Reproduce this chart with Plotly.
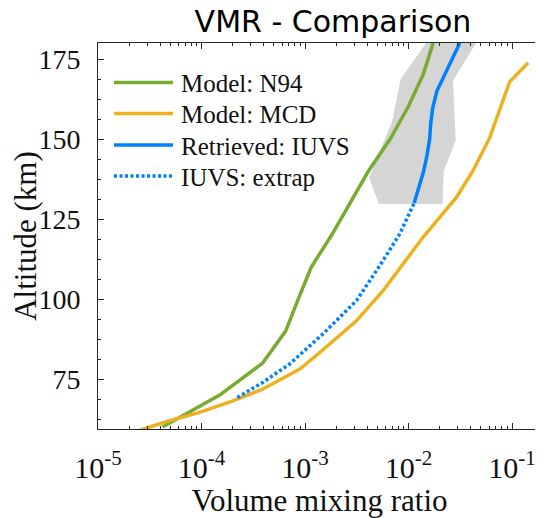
import plotly.graph_objects as go

# ---------------- data ----------------
alt_n94 = [60, 70, 80, 90, 100, 110, 120, 130, 140, 150, 160, 170, 180]
vmr_n94 = [4.2e-5, 1.5e-4, 3.9e-4, 6.5e-4, 8.6e-4, 1.15e-3, 1.81e-3, 2.7e-3,
           4.1e-3, 6.65e-3, 9.9e-3, 1.38e-2, 1.73e-2]

alt_mcd = [59.0, 61.7, 64.6, 68.2, 71.9, 78.1, 83.3, 86.4, 93.2, 102.6, 114.1,
           119.3, 125.5, 131.75, 140.1, 150.5, 167.9, 173.8]
vmr_mcd = [2.53e-5, 4.57e-5, 9.6e-5, 2.01e-4, 3.93e-4, 8.9e-4, 1.39e-3, 1.78e-3,
           3.14e-3, 5.68e-3, 1.03e-2, 1.38e-2, 2.0e-2, 2.9e-2, 4.2e-2, 6.1e-2,
           9.5e-2, 0.143]

alt_iuvs = [130, 135, 140, 145, 150, 155, 160, 165, 170, 175, 180]
vmr_iuvs = [1.135e-2, 1.26e-2, 1.40e-2, 1.51e-2, 1.60e-2, 1.64e-2, 1.72e-2,
            1.88e-2, 2.21e-2, 2.64e-2, 3.13e-2]

alt_extrap = [69.25, 74, 79.7, 89.1, 99.5, 110.4, 120.3, 126.6, 130]
vmr_extrap = [2.22e-4, 3.93e-4, 7.1e-4, 1.49e-3, 3.14e-3, 5.27e-3, 8.2e-3,
              1.01e-2, 1.135e-2]

# uncertainty envelope of the retrieval
alt_env_low = [129.7, 138, 155.7, 168.75, 180]
vmr_env_low = [5.18e-3, 4.15e-3, 6.97e-3, 8.4e-3, 1.48e-2]
alt_env_high = [129.7, 140, 149.5, 168.2, 180]
vmr_env_high = [2.13e-2, 2.19e-2, 2.86e-2, 2.69e-2, 4.49e-2]

series_names = ["Model: N94", "Model: MCD", "Retrieved: IUVS", "IUVS: extrap"]
x_tick_vals = [1e-5, 1e-4, 1e-3, 1e-2, 1e-1]
x_tick_text = ["10<sup>-5</sup>", "10<sup>-4</sup>", "10<sup>-3</sup>",
               "10<sup>-2</sup>", "10<sup>-1</sup>"]
y_tick_vals = [75, 100, 125, 150, 175]

# ---------------- styling ----------------
GREEN = "#77AC30"
YELLOW = "#EDB120"
BLUE = "#0080FF"
GRAY = "#d5d5d5"
AXC = "#262626"
SERIF = "Liberation Serif"
DOT = "3px,2.5px"

OFF = 8                      # page body margin offsets the figure
W, H = 543 - OFF, 518 - OFF  # figure size in its own pixels
# plot box in window pixels: left 98, right 541, top 43, bottom 428.7
L = 98 - OFF
T = 43 - OFF
R = W - (541 - OFF)
B = H - (428.7 - OFF)
pw, ph = W - L - R, H - T - B


def px_x(px):  # window px -> paper
    return (px - OFF - L) / pw


def px_y(py):
    return (H - B - (py - OFF)) / ph


fig = go.Figure()

fig.add_trace(go.Scatter(
    x=vmr_env_low + vmr_env_high[::-1],
    y=alt_env_low + alt_env_high[::-1],
    mode="lines", fill="toself", fillcolor=GRAY,
    line=dict(width=0, color=GRAY), hoverinfo="skip", showlegend=False))

fig.add_trace(go.Scatter(x=vmr_n94, y=alt_n94, mode="lines", name=series_names[0],
                         line=dict(color=GREEN, width=3.5), showlegend=False))
fig.add_trace(go.Scatter(x=vmr_mcd, y=alt_mcd, mode="lines", name=series_names[1],
                         line=dict(color=YELLOW, width=3.5), showlegend=False))
fig.add_trace(go.Scatter(x=vmr_iuvs, y=alt_iuvs, mode="lines", name=series_names[2],
                         line=dict(color=BLUE, width=3.5), showlegend=False))
fig.add_trace(go.Scatter(x=vmr_extrap, y=alt_extrap, mode="lines", name=series_names[3],
                         line=dict(color=BLUE, width=3.5, dash=DOT), showlegend=False))

# manual legend (MATLAB style, long line samples)
leg_rows = [82.5, 113.5, 145, 176]
leg_styles = [(GREEN, "solid"), (YELLOW, "solid"), (BLUE, "solid"), (BLUE, DOT)]
for name, yrow, (col, dash) in zip(series_names, leg_rows, leg_styles):
    fig.add_shape(type="line", xref="paper", yref="paper",
                  x0=px_x(114), x1=px_x(173), y0=px_y(yrow), y1=px_y(yrow),
                  line=dict(color=col, width=3.5, dash=dash))
    fig.add_annotation(xref="paper", yref="paper", x=px_x(179), y=px_y(yrow + 1),
                       text=name, showarrow=False, xanchor="left", yanchor="middle",
                       font=dict(family=SERIF, size=25, color="#111"))

minor_x = [m * 10 ** e for e in range(-5, 0) for m in range(2, 10)]

fig.update_xaxes(
    type="log", range=[-5, -0.72], automargin=False,
    tickmode="array", tickvals=x_tick_vals, ticktext=x_tick_text,
    ticks="inside", ticklen=6, tickcolor=AXC, tickwidth=1,
    showline=True, linecolor=AXC, linewidth=1, mirror="allticks",
    showgrid=False, zeroline=False,
    tickfont=dict(family=SERIF, size=30, color="#111"),
    ticklabelstandoff=12,
    minor=dict(tickmode="array", tickvals=minor_x, ticks="inside", ticklen=3,
               tickcolor=AXC, showgrid=False),
    title=dict(text="Volume mixing ratio", standoff=3,
               font=dict(family=SERIF, size=31, color="#111")),
)
fig.update_yaxes(
    range=[59.4, 180], automargin=False,
    tickmode="array", tickvals=y_tick_vals,
    ticks="inside", ticklen=6, tickcolor=AXC, tickwidth=1,
    showline=True, linecolor=AXC, linewidth=1, mirror="allticks",
    showgrid=False, zeroline=False,
    tickfont=dict(family=SERIF, size=28, color="#111"),
    ticklabelstandoff=11,
    minor=dict(dtick=6.25, tick0=0, ticks="inside", ticklen=3, tickcolor=AXC,
               showgrid=False),
    title=dict(text="Altitude (km)", standoff=1,
               font=dict(family=SERIF, size=31, color="#111")),
)

fig.update_layout(
    width=W, height=H, autosize=False,
    margin=dict(l=L, r=R, t=T, b=B),
    paper_bgcolor="white", plot_bgcolor="white",
    title=dict(text="VMR - Comparison", xref="container", yref="container",
               x=(333 - OFF) / W, xanchor="center", y=1 - (21.5 - OFF) / H,
               yanchor="middle",
               font=dict(family="DejaVu Sans", size=30, color="#000")),
    showlegend=False,
)

fig.write_html("out.html")
